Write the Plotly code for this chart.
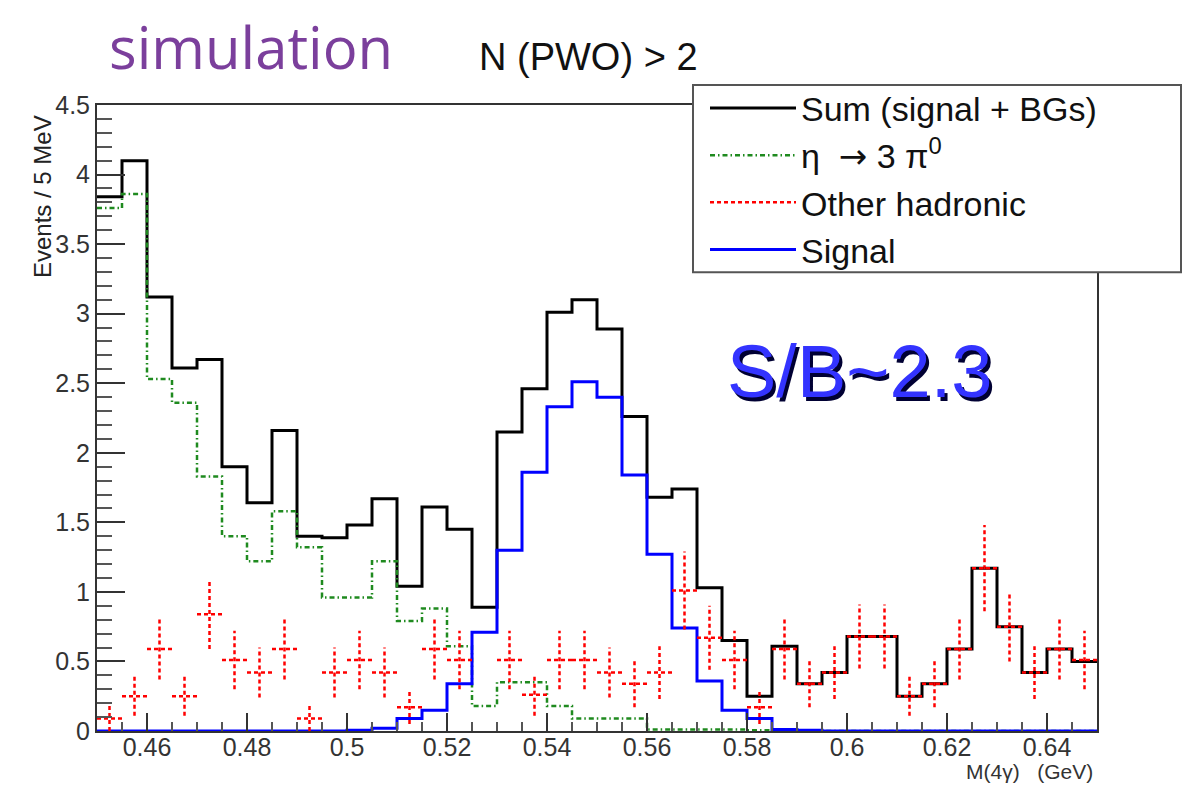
import plotly.graph_objects as go

# ---------------- data ----------------
BIN_START = 0.45      # GeV, lower edge of first bin
BIN_WIDTH = 0.005     # GeV (5 MeV bins)

sum_total = [3.84, 4.10, 3.12, 2.61, 2.67, 1.90, 1.64, 2.16, 1.40, 1.39,
             1.48, 1.67, 1.04, 1.61, 1.45, 0.89, 2.15, 2.46, 3.01, 3.10,
             2.89, 2.26, 1.68, 1.74, 1.03, 0.65, 0.25, 0.61, 0.34, 0.42,
             0.68, 0.68, 0.25, 0.34, 0.59, 1.17, 0.75, 0.42, 0.59, 0.50]

eta_3pi0 = [3.76, 3.86, 2.53, 2.36, 1.83, 1.40, 1.22, 1.58, 1.32, 0.96,
            0.96, 1.22, 0.79, 0.88, 0.61, 0.18, 0.35, 0.35, 0.18, 0.09,
            0.09, 0.09, 0.01, 0.01, 0.01, 0.01, 0.005, 0.0, 0.0, 0.0,
            0.0, 0.0, 0.0, 0.0, 0.0, 0.0, 0.0, 0.0, 0.0, 0.0]

other_hadronic = [0.09, 0.25, 0.59, 0.25, 0.84, 0.51, 0.42, 0.59, 0.09, 0.42,
                  0.51, 0.42, 0.17, 0.59, 0.51, 0.0, 0.51, 0.26, 0.51, 0.51,
                  0.42, 0.34, 0.42, 1.01, 0.67, 0.51, 0.17, 0.59, 0.34, 0.42,
                  0.68, 0.68, 0.25, 0.34, 0.59, 1.17, 0.75, 0.42, 0.59, 0.51]

other_err = [0.09, 0.14, 0.22, 0.14, 0.25, 0.21, 0.18, 0.22, 0.09, 0.18,
             0.21, 0.18, 0.12, 0.22, 0.21, 0.0, 0.21, 0.15, 0.21, 0.21,
             0.18, 0.17, 0.19, 0.28, 0.23, 0.21, 0.12, 0.22, 0.17, 0.19,
             0.23, 0.23, 0.14, 0.17, 0.22, 0.31, 0.25, 0.19, 0.22, 0.21]

signal = [0.0, 0.0, 0.0, 0.0, 0.0, 0.0, 0.0, 0.0, 0.0, 0.0,
          0.005, 0.02, 0.09, 0.15, 0.34, 0.71, 1.30, 1.86, 2.33, 2.51,
          2.40, 1.84, 1.27, 0.74, 0.36, 0.15, 0.09, 0.01, 0.005, 0.0,
          0.0, 0.0, 0.0, 0.0, 0.0, 0.0, 0.0, 0.0, 0.0, 0.0]

x_tick_vals = [0.46, 0.48, 0.50, 0.52, 0.54, 0.56, 0.58, 0.60, 0.62, 0.64]
x_tick_text = ["0.46", "0.48", "0.5", "0.52", "0.54", "0.56", "0.58", "0.6", "0.62", "0.64"]
y_tick_vals = [0, 0.5, 1, 1.5, 2, 2.5, 3, 3.5, 4, 4.5]
y_tick_text = ["0", "0.5", "1", "1.5", "2", "2.5", "3", "3.5", "4", "4.5"]

legend_names = ["Sum (signal + BGs)",
                "\u03b7  <span style=\"font-family:DejaVu Sans\">\u2192</span> 3 \u03c0<sup>0</sup>",
                "Other hadronic", "Signal"]

# ---------------- derived geometry from the binning ----------------
n = len(sum_total)
edges = [round(BIN_START + i * BIN_WIDTH, 4) for i in range(n + 1)]
centers = [round(BIN_START + (i + 0.5) * BIN_WIDTH, 5) for i in range(n)]


def step_y(vals):
    return list(vals) + [vals[-1]]


FONT = "Liberation Sans, Arial, Helvetica, sans-serif"

fig = go.Figure()

# Sum (black)
fig.add_trace(go.Scatter(x=edges, y=step_y(sum_total), mode="lines", line_shape="hv",
                         line=dict(color="#000000", width=3), name=legend_names[0],
                         legendrank=1))
# eta -> 3 pi0 (green dash-dot)
fig.add_trace(go.Scatter(x=edges, y=step_y(eta_3pi0), mode="lines", line_shape="hv",
                         line=dict(color="#1f8a1f", width=2.5, dash="5px,3px,1.5px,3px"),
                         name=legend_names[1], legendrank=2))
# Signal (blue)
fig.add_trace(go.Scatter(x=edges, y=step_y(signal), mode="lines", line_shape="hv",
                         line=dict(color="#0000ff", width=3), name=legend_names[3],
                         legendrank=4))
# Other hadronic (red dashed crosses: bin-width bar + error bar)
rx, ry = [], []
for i, (c, v, e) in enumerate(zip(centers, other_hadronic, other_err)):
    if v <= 0:
        continue
    rx += [edges[i], edges[i + 1], None, c, c, None]
    ry += [v, v, None, v - e, v + e, None]
fig.add_trace(go.Scatter(x=rx, y=ry, mode="lines", connectgaps=False,
                         line=dict(color="#ff0000", width=2.5, dash="4px,3px"),
                         name=legend_names[2], legendrank=3))

fig.update_layout(
    width=1185, height=777,
    margin=dict(l=89, r=96, t=97, b=54),
    paper_bgcolor="white", plot_bgcolor="white",
    font=dict(family=FONT, color="#222222"),
    showlegend=True,
    legend=dict(x=0.608, y=1.041, xanchor="left", yanchor="top",
                bgcolor="rgba(0,0,0,0)", borderwidth=0,
                font=dict(family=FONT, size=34, color="#111111"),
                itemwidth=86, tracegroupgap=0),
    xaxis=dict(range=[edges[0], edges[-1]], tickvals=x_tick_vals, ticktext=x_tick_text,
               ticks="inside", ticklen=18, tickwidth=1.5, tickcolor="#333333",
               minor=dict(ticks="inside", ticklen=9, tickwidth=1.5, tickcolor="#555555",
                          tick0=BIN_START, dtick=BIN_WIDTH),
               showline=True, linecolor="#333333", linewidth=2, mirror=True,
               showgrid=False, zeroline=False, ticklabelstandoff=-7,
               tickfont=dict(family=FONT, size=25, color="#333333")),
    yaxis=dict(range=[0, 4.5], tickvals=y_tick_vals, ticktext=y_tick_text,
               ticks="inside", ticklen=28, tickwidth=1.5, tickcolor="#333333",
               minor=dict(ticks="inside", ticklen=15, tickwidth=1.5, tickcolor="#555555",
                          tick0=0, dtick=0.1),
               showline=True, linecolor="#333333", linewidth=2, mirror=True,
               showgrid=False, zeroline=False,
               tickfont=dict(family=FONT, size=25, color="#333333")),
    shapes=[dict(type="rect", xref="paper", yref="paper",
                 x0=0.596, x1=1.084, y0=0.733, y1=1.032,
                 fillcolor="white", line=dict(color="#555555", width=2), layer="above")],
    annotations=[
        dict(text="simulation", xref="paper", yref="paper", x=0.154, y=1.093,
             showarrow=False, xanchor="center", yanchor="middle",
             font=dict(family="Open Sans, Lato, sans-serif", size=58, color="#7b3f9c")),
        dict(text="N (PWO) > 2", xref="paper", yref="paper", x=0.491, y=1.077,
             showarrow=False, xanchor="center", yanchor="middle",
             font=dict(family=FONT, size=38, color="#111111")),
        dict(text="S/B~2.3", xref="paper", yref="paper", x=0.765, y=0.5685,
             showarrow=False, xanchor="center", yanchor="middle",
             font=dict(family=FONT, size=74, color="#000033")),
        dict(text="S/B~2.3", xref="paper", yref="paper", x=0.762, y=0.5735,
             showarrow=False, xanchor="center", yanchor="middle",
             font=dict(family=FONT, size=74, color="#3333ff")),
        dict(text="Events / 5 MeV", xref="paper", yref="paper", x=-0.055, y=0.853,
             showarrow=False, xanchor="center", yanchor="middle", textangle=-90,
             font=dict(family=FONT, size=24, color="#222222")),
        dict(text="M(4\u03b3)   (GeV)", xref="paper", yref="paper", x=0.998, y=-0.065,
             showarrow=False, xanchor="right", yanchor="middle",
             font=dict(family=FONT, size=21, color="#333333")),
    ],
)

fig.write_html("out.html")
